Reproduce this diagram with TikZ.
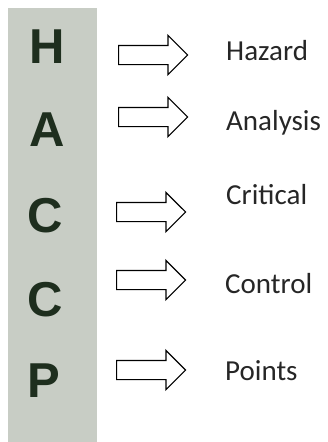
\documentclass[tikz,border=0pt]{standalone}
\usepackage{fontspec}
\setmainfont{Carlito}
\newfontfamily\letterfont{Liberation Sans}
\usetikzlibrary{shapes.arrows}
\definecolor{stripgray}{RGB}{200,205,197}
\definecolor{lettergreen}{RGB}{30,46,30}
\begin{document}
\begin{tikzpicture}[x=1pt,y=-1pt,
	letter/.style={inner sep=0,text=lettergreen,font=\letterfont\bfseries\fontsize{49}{49}\selectfont},
	word/.style={inner sep=0,anchor=base west,text=black!85,font=\fontsize{29}{30}\selectfont},
	blockarrow/.style={single arrow,draw=black,line width=1.2pt,inner xsep=0,inner ysep=9pt,
		single arrow head extend=10pt,minimum height=69pt,anchor=tail}]
		\useasboundingbox (0,0) rectangle (328,442);
		\fill[stripgray] (8,8) rectangle (97,442);
		% letters
		\node[letter] (h) at (47,47) {H};
		\node[letter] (a) at (47,130) {A};
		\node[letter] (c1) at (45,216) {C};
		\node[letter] (c2) at (45,300) {C};
		\node[letter] (p) at (44,381) {P};
		% arrows
		\node[blockarrow] (arrh) at (118,55) {};
		\node[blockarrow] (arra) at (118,117) {};
		\node[blockarrow] (arrc1) at (116,212) {};
		\node[blockarrow] (arrc2) at (116,280) {};
		\node[blockarrow] (arrp) at (116,370) {};
		% words
		\node[word] (hazard) at (226,60) {Hazard};
		\node[word] (analysis) at (226,130) {Analysis};
		\node[word] (critical) at (226,204) {Critical};
		\node[word] (control) at (225,293) {Control};
		\node[word] (points) at (225,380) {Points};
\end{tikzpicture}
\end{document}
